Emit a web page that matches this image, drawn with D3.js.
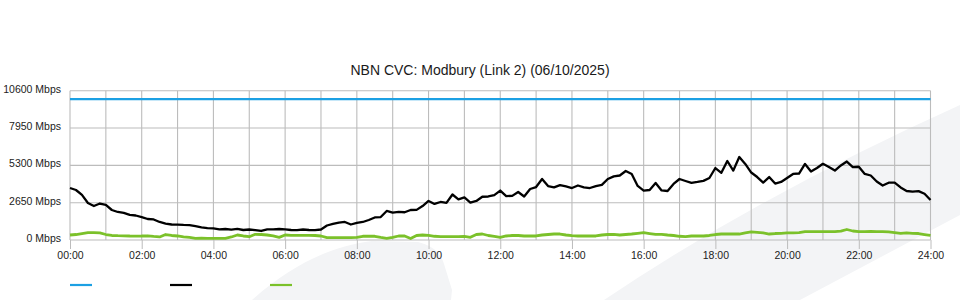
<!DOCTYPE html>
<html>
<head>
<meta charset="utf-8">
<script src="https://cdn.jsdelivr.net/npm/d3@7"></script>
<style>
  body { margin: 0; background: #fff; }
  #chart svg { display: block; font-family: "Liberation Sans", Arial, sans-serif; }
</style>
</head>
<body>
<div id="chart"></div>
<script>
const title = "NBN CVC: Modbury (Link 2) (06/10/2025)";
const yTicks = [0, 2650, 5300, 7950, 10600];
const xTickLabels = ["00:00", "02:00", "04:00", "06:00", "08:00", "10:00", "12:00",
  "14:00", "16:00", "18:00", "20:00", "22:00", "24:00"];
const stepMinutes = 10;

// capacity line
const capacity = [10000, 10000];

// traffic in, Mbps, every 10 minutes
const trafficIn = [
  3690, 3550, 3200, 2630, 2410, 2590, 2490, 2130, 1990, 1920,
  1780, 1740, 1630, 1490, 1460, 1280, 1170, 1100, 1090, 1070,
  1060, 990, 900, 850, 820, 750, 780, 740, 790, 710,
  745, 700, 640, 750, 760, 780, 750, 710, 700, 745,
  710, 700, 745, 1030, 1140, 1240, 1280, 1100, 1210, 1280,
  1420, 1600, 1630, 2060, 1950, 1990, 1970, 2130, 2140, 2410,
  2770, 2560, 2700, 2630, 3230, 2880, 3020, 2660, 2770, 3070,
  3090, 3180, 3510, 3120, 3130, 3410, 3090, 3620, 3760, 4330,
  3830, 3740, 3900, 3800, 3690, 3870, 3740, 3690, 3830, 3910,
  4330, 4520, 4580, 4900, 4690, 3840, 3510, 3550, 4050, 3520,
  3480, 3980, 4330, 4190, 4050, 4120, 4200, 4400, 5110, 4770,
  5610, 4930, 5890, 5400, 4790, 4470, 4080, 4470, 4010, 4120,
  4400, 4690, 4720, 5400, 4860, 5110, 5410, 5180, 4930, 5290,
  5570, 5180, 5200, 4690, 4580, 4150, 3870, 4070, 4080, 3730,
  3480, 3430, 3470, 3280, 2840
];

// traffic out, Mbps, every 10 minutes
const trafficOut = [
  355, 390, 460, 520, 520, 500, 390, 320, 305, 300,
  285, 280, 285, 300, 250, 215, 390, 320, 285, 215,
  180, 120, 140, 120, 120, 120, 120, 215, 355, 285,
  235, 405, 390, 355, 285, 190, 355, 335, 335, 335,
  335, 320, 285, 165, 165, 165, 165, 165, 180, 265,
  265, 265, 180, 120, 180, 285, 285, 105, 320, 355,
  335, 265, 235, 235, 235, 235, 250, 190, 390, 425,
  320, 265, 190, 285, 320, 320, 285, 285, 285, 355,
  390, 425, 425, 355, 305, 285, 285, 285, 285, 355,
  390, 405, 355, 390, 425, 475, 520, 460, 405, 405,
  355, 320, 265, 235, 285, 285, 285, 320, 390, 425,
  425, 425, 425, 500, 570, 545, 500, 425, 460, 475,
  500, 500, 530, 590, 590, 590, 590, 590, 590, 625,
  745, 640, 590, 590, 605, 590, 590, 570, 530, 475,
  500, 475, 460, 390, 320
];

const legendColors = ["#1ca0e3", "#000000", "#7bc12a"];

const width = 960;
const height = 300;

const svg = d3.select("#chart")
  .append("svg")
  .attr("width", width)
  .attr("height", height);

// background watermark
const wm = svg.append("g").attr("fill", "#f3f4f6");
wm.append("path")
  .attr("d", "M252,300 C290,266 330,246 372,241 L418,242 C434,246 441,254 444,264 L452,290 L451,300 Z");
wm.append("path")
  .attr("d", "M604,300 Q760,195 960,105 L960,215 L800,300 Z");

const x = d3.scaleLinear().domain([0, 24]).range([70, 930.5]);
const y = d3.scaleLinear().domain([0, 10600]).range([240, 90.7]);

// grid
const grid = svg.append("g")
  .attr("stroke", "#bcbcbc")
  .attr("stroke-width", 1.1);

grid.selectAll(".vgrid")
  .data(d3.range(0, 25))
  .enter()
  .append("line")
  .attr("x1", d => x(d))
  .attr("x2", d => x(d))
  .attr("y1", y(10600))
  .attr("y2", y(0));

grid.selectAll(".hgrid")
  .data(yTicks)
  .enter()
  .append("line")
  .attr("x1", x(0))
  .attr("x2", x(24))
  .attr("y1", d => y(d))
  .attr("y2", d => y(d));

// x axis
const xAxis = d3.axisBottom(x)
  .tickValues(d3.range(0, 25, 2))
  .tickFormat((d, i) => xTickLabels[i])
  .tickSize(9)
  .tickSizeOuter(0)
  .tickPadding(3);

const gx = svg.append("g")
  .attr("transform", `translate(0,${y(0)})`)
  .call(xAxis);
gx.select(".domain").remove();
gx.selectAll(".tick line").attr("stroke", "#bcbcbc");
gx.selectAll(".tick text")
  .attr("fill", "#222")
  .style("font-size", "10.5px")
  .style("font-family", "'Liberation Sans', Arial, sans-serif");

// y axis labels
const yAxis = d3.axisLeft(y)
  .tickValues(yTicks)
  .tickFormat(d => d + " Mbps")
  .tickSize(0)
  .tickPadding(9);

const gy = svg.append("g")
  .attr("transform", `translate(${x(0)},-2)`)
  .call(yAxis);
gy.select(".domain").remove();
gy.selectAll(".tick text")
  .attr("fill", "#222")
  .style("font-size", "10.5px")
  .style("font-family", "'Liberation Sans', Arial, sans-serif");

// title
svg.append("text")
  .attr("x", 480)
  .attr("y", 75)
  .attr("text-anchor", "middle")
  .attr("fill", "#1a1a1a")
  .style("font-size", "14px")
  .text(title);

// series
const line = d3.line()
  .x((d, i) => x(i * stepMinutes / 60))
  .y(d => y(d));

svg.append("path")
  .datum(capacity)
  .attr("fill", "none")
  .attr("stroke", legendColors[0])
  .attr("stroke-width", 2.2)
  .attr("d", d3.line().x((d, i) => x(i * 24)).y(d => y(d)));

svg.append("path")
  .datum(trafficOut)
  .attr("fill", "none")
  .attr("stroke", legendColors[2])
  .attr("stroke-width", 2.8)
  .attr("stroke-linejoin", "round")
  .attr("d", line);

svg.append("path")
  .datum(trafficIn)
  .attr("fill", "none")
  .attr("stroke", legendColors[1])
  .attr("stroke-width", 2.3)
  .attr("stroke-linejoin", "round")
  .attr("d", line);

// legend
svg.append("g")
  .selectAll("line")
  .data(legendColors)
  .enter()
  .append("line")
  .attr("x1", (d, i) => 70 + i * 100)
  .attr("x2", (d, i) => 92 + i * 100)
  .attr("y1", 285)
  .attr("y2", 285)
  .attr("stroke", d => d)
  .attr("stroke-width", 2.2);
</script>
</body>
</html>
